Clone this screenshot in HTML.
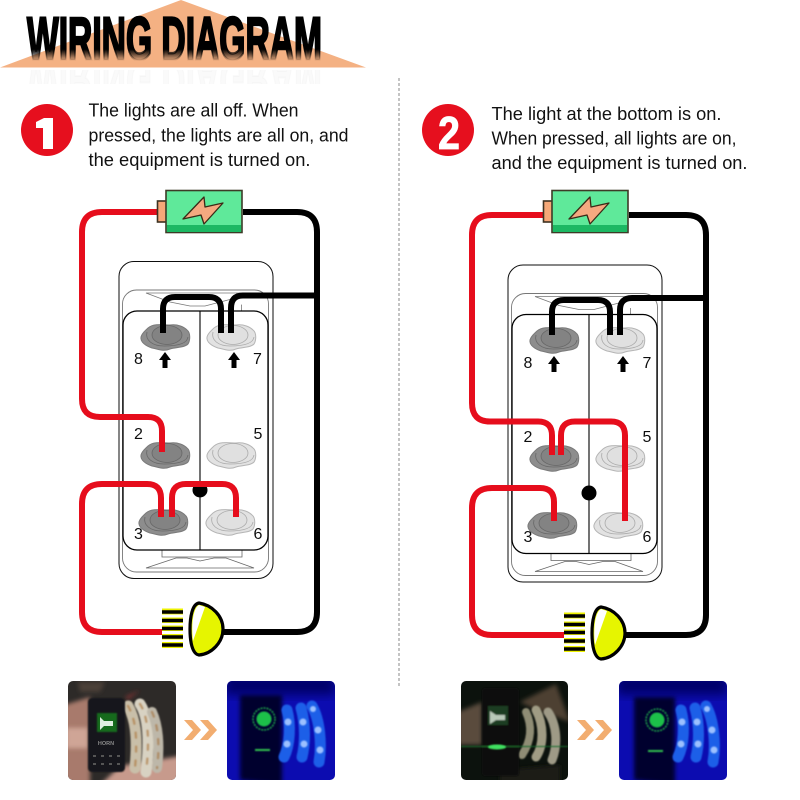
<!DOCTYPE html>
<html><head><meta charset="utf-8"><title>Wiring Diagram</title>
<style>html,body{margin:0;padding:0;background:#fff}svg{display:block}</style></head>
<body>
<svg width="800" height="800" viewBox="0 0 800 800" xmlns="http://www.w3.org/2000/svg" font-family="'Liberation Sans',sans-serif">
<defs>
<linearGradient id="tf" gradientUnits="userSpaceOnUse" x1="0" y1="16" x2="0" y2="61"><stop offset="0" stop-color="#000"/><stop offset=".74" stop-color="#000"/><stop offset="1" stop-color="#000" stop-opacity="0"/></linearGradient>
<filter id="b1" x="-20%" y="-20%" width="140%" height="140%"><feGaussianBlur stdDeviation=".8"/></filter>
<filter id="b2" x="-20%" y="-20%" width="140%" height="140%"><feGaussianBlur stdDeviation="2"/></filter>
<filter id="b3" x="-30%" y="-30%" width="160%" height="160%"><feGaussianBlur stdDeviation="5"/></filter>
<filter id="s" x="-5%" y="-5%" width="110%" height="110%"><feGaussianBlur stdDeviation=".35"/></filter>
<clipPath id="rc"><rect x="0" y="70" width="400" height="14"/></clipPath>
<clipPath id="c1"><rect x="68" y="681" width="108" height="99" rx="5"/></clipPath>
<clipPath id="c2"><rect x="227" y="681" width="108" height="99" rx="5"/></clipPath>
<clipPath id="c3"><rect x="461" y="681" width="107" height="99" rx="5"/></clipPath>
<clipPath id="c4"><rect x="619" y="681" width="108" height="99" rx="5"/></clipPath>
<g id="dk">
<path d="M-18,-9C-12,-14 -2,-12 4,-12C12,-13 18,-10 21,-7C25,-4 24,4 22,7C18,11 10,10 4,12C-3,15 -8,12 -14,11C-20,9 -26,5 -25,0C-24,-4 -21,-6 -18,-9Z" fill="#8d8d8d" stroke="#7a7a7a"/>
<path d="M-19,-5C-21,3 -14,9 -2,9C8,9 21,8 22,0" fill="none" stroke="#666" stroke-width=".8"/>
<ellipse cx="1" cy="-2" rx="15" ry="9.500" fill="#838383" stroke="#666" stroke-width=".8"/>
</g>
<g id="lt">
<path d="M-18,-9C-12,-14 -2,-12 4,-12C12,-13 18,-10 21,-7C25,-4 24,4 22,7C18,11 10,10 4,12C-3,15 -8,12 -14,11C-20,9 -26,5 -25,0C-24,-4 -21,-6 -18,-9Z" fill="#e2e2e2" stroke="#b5b5b5"/>
<path d="M-19,-5C-21,3 -14,9 -2,9C8,9 21,8 22,0" fill="none" stroke="#aaa" stroke-width=".8"/>
<ellipse cx="1" cy="-2" rx="15" ry="9.500" fill="#e0e0e0" stroke="#aaa" stroke-width=".8"/>
</g>
<g id="up"><path d="M0,-8L6,0H2.500V8H-2.500V0H-6Z" fill="#000"/></g>
<g id="sw">
<rect x="119" y="261.500" width="154" height="317" rx="15" fill="#fff" stroke="#111" stroke-width="1"/>
<rect x="122.500" y="290" width="146" height="282" rx="14" fill="none" stroke="#777" stroke-width=".9"/>
<path d="M146,293H254L228,300L205,306H190L170,302Z" fill="none" stroke="#777" stroke-width=".8"/>
<path d="M241,305H241.500V311" fill="none" stroke="#777" stroke-width=".8"/>
<path d="M162,550V557H242V550" fill="none" stroke="#666" stroke-width=".8"/>
<path d="M146,568L176,558H187L200,561L214,558H226L254,568Z" fill="none" stroke="#666" stroke-width=".8"/>
<rect x="123" y="311" width="145" height="239" rx="14" fill="none" stroke="#000" stroke-width="1.300"/>
<path d="M200,311V550" stroke="#000" stroke-width="1.100"/>
</g>
<g id="bat">
<rect x="157.500" y="201" width="9" height="21" fill="#f5a878" stroke="#3d3020" stroke-width="1.600"/>
<rect x="166" y="190.500" width="76" height="42" fill="#5fe99a" stroke="#3d3a28" stroke-width="1.600"/>
<rect x="167" y="225" width="74" height="7" fill="#1db864"/>
<path d="M204,197L183,219L201,215L204,224L223,203L205,207Z" fill="#f5a980" stroke="#3a2a18" stroke-width="1.300" stroke-linejoin="round"/>
</g>
<g id="fins">
<g fill="#eef200"><rect x="162" y="608.500" width="21" height="6"/><rect x="162" y="617.500" width="21" height="5.500"/><rect x="162" y="625.500" width="21" height="5.500"/><rect x="162" y="634" width="21" height="5.500"/><rect x="162" y="642" width="21" height="6"/></g>
<g stroke="#000" stroke-width="3.600"><path d="M162,612H183M162,620.500H183M162,628.500H183M162,637H183M162,645H183"/></g>
</g>
<g id="bulb">
<path d="M199,603C192,604 190,618 190,629C190,641 192,654 199,655C212,654 223,642 223,629C223,616 212,605 199,603Z" fill="#e6f500" stroke="#000" stroke-width="3.200"/>
<path d="M193,641C191,625 193,608 199,605L205,607Z" fill="#fff"/>
</g>
<g id="chev"><path d="M0,0H8L17,10L8,20H0L9,10Z" fill="#f2ad70"/></g>
</defs>

<!-- Header -->
<path d="M0,67.500L181,0L366,67.500Z" fill="#f4b183"/>
<text x="27" y="60" font-size="61" font-weight="bold" fill="url(#tf)" stroke="url(#tf)" stroke-width="2.600" textLength="295" lengthAdjust="spacingAndGlyphs">WIRING DIAGRAM</text>
<g clip-path="url(#rc)"><text transform="translate(0,120) scale(1,-1)" x="27" y="60" font-size="61" font-weight="bold" fill="#000" fill-opacity=".018" stroke="#000" stroke-opacity=".018" stroke-width="2" textLength="295" lengthAdjust="spacingAndGlyphs">WIRING DIAGRAM</text></g>

<line x1="399" y1="78" x2="399" y2="688" stroke="#888" stroke-width="1" stroke-dasharray="3,2"/>

<circle cx="47" cy="130" r="26" fill="#e60f1e"/>
<path d="M36,122L44,118H53V149H43V128H36Z" fill="#fff"/>
<text x="88.500" y="116.500" font-size="18" fill="#111" textLength="210" lengthAdjust="spacingAndGlyphs">The lights are all off. When</text>
<text x="88.500" y="141.500" font-size="18" fill="#111" textLength="260" lengthAdjust="spacingAndGlyphs">pressed, the lights are all on, and</text>
<text x="88.500" y="166" font-size="18" fill="#111" textLength="222" lengthAdjust="spacingAndGlyphs">the equipment is turned on.</text>

<circle cx="448" cy="130" r="26" fill="#e60f1e"/>
<text x="449" y="149" font-size="46" font-weight="bold" fill="#fff" text-anchor="middle" textLength="22" lengthAdjust="spacingAndGlyphs" stroke="#fff" stroke-width=".8">2</text>
<text x="491.500" y="120" font-size="18" fill="#111" textLength="230" lengthAdjust="spacingAndGlyphs">The light at the bottom is on.</text>
<text x="491.500" y="144.500" font-size="18" fill="#111" textLength="245" lengthAdjust="spacingAndGlyphs">When pressed, all lights are on,</text>
<text x="491.500" y="169" font-size="18" fill="#111" textLength="256" lengthAdjust="spacingAndGlyphs">and the equipment is turned on.</text>

<!-- Left diagram -->
<g filter="url(#s)">
<use href="#sw"/>
<use href="#dk" x="166" y="337"/><use href="#lt" x="232" y="337"/>
<use href="#dk" x="166" y="455"/><use href="#lt" x="232" y="455"/>
<use href="#dk" x="164" y="522"/><use href="#lt" x="231" y="522"/>
<use href="#up" x="165" y="360"/><use href="#up" x="234" y="360"/>
<circle cx="200" cy="490" r="7.500" fill="#000"/>
<g font-size="16" fill="#111" text-anchor="middle">
<text x="138.500" y="364">8</text><text x="257.500" y="364">7</text>
<text x="138.500" y="439">2</text><text x="258" y="439">5</text>
<text x="138.500" y="539">3</text><text x="258" y="539">6</text></g>
<g fill="none" stroke-width="6">
<path d="M163,333V309Q163,297 175,297H209Q221,297 221,309V333" stroke="#000"/>
<path d="M231,333V308Q231,295.500 243,295.500H317" stroke="#000"/>
<path d="M243,212H297Q317,212 317,232V612Q317,632 297,632H223" stroke="#000"/>
<path d="M157,212H102Q82,212 82,232V399Q82,417 100,417H148Q162,417 162,431V452" stroke="#e60f1e"/>
<path d="M162,632H102Q82,632 82,612V504Q82,484 102,484H147Q161,484 161,498V517" stroke="#e60f1e"/>
<path d="M172,517V498Q172,484 186,484H222Q236,484 236,498V517" stroke="#e60f1e"/>
</g>
<use href="#bat"/><use href="#fins"/><use href="#bulb"/>
</g>

<!-- Right diagram -->
<g filter="url(#s)">
<use href="#sw" x="389" y="3.500"/>
<use href="#dk" x="555" y="340"/><use href="#lt" x="621" y="340"/>
<use href="#dk" x="555" y="458"/><use href="#lt" x="621" y="458"/>
<use href="#dk" x="553" y="525"/><use href="#lt" x="619" y="525"/>
<use href="#up" x="554" y="364"/><use href="#up" x="623" y="364"/>
<circle cx="589" cy="493" r="7.500" fill="#000"/>
<g font-size="16" fill="#111" text-anchor="middle">
<text x="528" y="368">8</text><text x="647" y="368">7</text>
<text x="528" y="442">2</text><text x="647" y="442">5</text>
<text x="528" y="542">3</text><text x="647" y="542">6</text></g>
<g fill="none" stroke-width="6">
<path d="M552,335V312Q552,300 564,300H598Q610,300 610,312V335" stroke="#000"/>
<path d="M620,335V310Q620,298 632,298H706" stroke="#000"/>
<path d="M629,215H686Q706,215 706,235V615Q706,635 686,635H625" stroke="#000"/>
<path d="M543,215H492Q472,215 472,235V403Q472,421.500 490,421.500H538Q552,421.500 552,435.500V455" stroke="#e60f1e"/>
<path d="M561,455V435.500Q561,421.500 575,421.500H611Q625,421.500 625,435.500V521" stroke="#e60f1e"/>
<path d="M564,635H492Q472,635 472,615V508Q472,488 492,488H540Q554,488 554,502V521" stroke="#e60f1e"/>
</g>
<use href="#bat" x="386" y="0"/>
<use href="#fins" x="402" y="4"/><use href="#bulb" x="402" y="4"/>
</g>

<!-- Photos -->
<g clip-path="url(#c1)">
<rect x="68" y="681" width="108" height="99" fill="#2d2a28"/>
<g filter="url(#b2)">
<path d="M64,705L90,697V785H64Z" fill="#a87a6c"/>
<path d="M66,728H88V748H66Z" fill="#cfa596"/>
<path d="M120,766L180,756V785H100Z" fill="#c79a8c"/>
<path d="M78,682H105L100,692H80Z" fill="#4c4038"/>
<path d="M125,697L140,690L128,700Z" fill="#7a3030"/>
</g>
<g fill="none" filter="url(#b1)" stroke-linecap="round">
<path d="M128,706C135,718 138,735 135,768" stroke="#c9bfa9" stroke-width="11"/>
<path d="M140,704C148,716 150,740 146,772" stroke="#d8d2c2" stroke-width="11"/>
<path d="M152,712C158,725 160,745 157,768" stroke="#bdb7a9" stroke-width="10"/>
<path d="M128,706C135,718 138,735 135,768" stroke="#b08048" stroke-opacity=".7" stroke-width="2.500" stroke-dasharray="5,9"/>
<path d="M140,704C148,716 150,740 146,772" stroke="#b08048" stroke-opacity=".7" stroke-width="2.500" stroke-dasharray="5,9"/>
<path d="M152,712C158,725 160,745 157,768" stroke="#a87c4c" stroke-opacity=".7" stroke-width="2.500" stroke-dasharray="5,9"/>
</g>
<rect x="88" y="698" width="37" height="74" rx="4" fill="#18181a" filter="url(#b1)"/>
<rect x="97" y="713" width="20" height="19" fill="#146a1e" filter="url(#b1)"/>
<path d="M100,717L104,721H113V726H104L100,730Z" fill="#dfeee0"/>
<text x="106" y="745" font-size="5.500" font-weight="bold" fill="#8a8a8a" text-anchor="middle">HORN</text>
<g fill="#555"><rect x="93" y="755" width="3" height="2"/><rect x="101" y="755" width="3" height="2"/><rect x="109" y="755" width="3" height="2"/><rect x="117" y="755" width="3" height="2"/><rect x="93" y="763" width="3" height="2"/><rect x="101" y="763" width="3" height="2"/><rect x="109" y="763" width="3" height="2"/><rect x="117" y="763" width="3" height="2"/></g>
</g>
<use href="#chev" x="184" y="720"/><use href="#chev" x="200" y="720"/>

<g clip-path="url(#c2)">
<rect x="227" y="681" width="108" height="99" fill="#0c0cb0"/>
<rect x="225" y="675" width="110" height="20" fill="#04046a" filter="url(#b3)"/>
<path d="M240,695H282V785L240,780Z" fill="#03032e" filter="url(#b2)"/>
<g fill="none" stroke-linecap="round" filter="url(#b1)">
<path d="M287,710C291,725 290,745 284,757" stroke="#1f5ee8" stroke-width="11"/>
<path d="M301,708C306,725 305,745 302,757" stroke="#1f5ee8" stroke-width="11"/>
<path d="M312,706C320,720 322,745 319,762" stroke="#1f5ee8" stroke-width="11"/>
</g>
<g filter="url(#b1)">
<circle cx="288" cy="722" r="3.500" fill="#9cc0ff"/><circle cx="287" cy="744" r="3.500" fill="#9cc0ff"/><circle cx="303" cy="722" r="3.500" fill="#9cc0ff"/><circle cx="304" cy="744" r="3.500" fill="#9cc0ff"/><circle cx="313" cy="709" r="3" fill="#9cc0ff"/><circle cx="318" cy="730" r="3.500" fill="#9cc0ff"/><circle cx="320" cy="750" r="3.500" fill="#9cc0ff"/>
<circle cx="264" cy="719" r="7.500" fill="#1cc04a"/>
<circle cx="264" cy="719" r="11" fill="none" stroke="#1fa84a" stroke-width="1.500" stroke-dasharray="2,1"/>
<rect x="255" y="749" width="15" height="2" fill="#30c050"/>
</g>
</g>

<g clip-path="url(#c3)">
<rect x="461" y="681" width="107" height="99" fill="#0c120d"/>
<g filter="url(#b2)">
<path d="M458,712L482,702V745H458Z" fill="#5a4c3c"/>
<path d="M520,702L556,684L570,722L532,708Z" fill="#4e4032"/>
<path d="M500,770L560,765V785H500Z" fill="#1e1a14"/>
</g>
<g fill="none" filter="url(#b1)" stroke-linecap="round">
<path d="M526,712C532,725 532,740 522,755" stroke="#8f8d74" stroke-width="8"/>
<path d="M536,710C544,725 544,745 536,757" stroke="#a09c84" stroke-width="9"/>
<path d="M548,712C557,725 558,745 552,760" stroke="#9e9a86" stroke-width="9"/>
</g>
<g filter="url(#b1)">
<rect x="482" y="688" width="37" height="88" rx="3" fill="#0c0e0d"/>
<rect x="488" y="706" width="20" height="19" fill="#1c3c24"/>
<path d="M490,711L496,715H505V720H496L490,724Z" fill="#b8c8b8"/>
<rect x="461" y="746" width="107" height="1" fill="#1a6a2a"/>
</g>
<ellipse cx="497" cy="747" rx="9" ry="2.500" fill="#40e060" filter="url(#b1)"/>
</g>
<use href="#chev" x="577" y="720"/><use href="#chev" x="595" y="720"/>

<g clip-path="url(#c4)">
<rect x="619" y="681" width="108" height="99" fill="#0c0cb0"/>
<rect x="617" y="675" width="110" height="20" fill="#04046a" filter="url(#b3)"/>
<path d="M634,697H675V785L634,780Z" fill="#03032e" filter="url(#b2)"/>
<g fill="none" stroke-linecap="round" filter="url(#b1)">
<path d="M681,710C685,725 684,745 678,757" stroke="#1f5ee8" stroke-width="11"/>
<path d="M695,708C700,725 699,745 696,757" stroke="#1f5ee8" stroke-width="11"/>
<path d="M706,706C714,720 716,745 713,762" stroke="#1f5ee8" stroke-width="11"/>
</g>
<g filter="url(#b1)">
<circle cx="682" cy="722" r="3.500" fill="#9cc0ff"/><circle cx="681" cy="744" r="3.500" fill="#9cc0ff"/><circle cx="697" cy="722" r="3.500" fill="#9cc0ff"/><circle cx="698" cy="744" r="3.500" fill="#9cc0ff"/><circle cx="707" cy="709" r="3" fill="#9cc0ff"/><circle cx="712" cy="730" r="3.500" fill="#9cc0ff"/><circle cx="714" cy="750" r="3.500" fill="#9cc0ff"/>
<circle cx="657" cy="720" r="7.500" fill="#1cc04a"/>
<circle cx="657" cy="720" r="11" fill="none" stroke="#1fa84a" stroke-width="1.500" stroke-dasharray="2,1"/>
<rect x="648" y="750" width="15" height="2" fill="#30c050"/>
</g>
</g>
</svg>
</body></html>
